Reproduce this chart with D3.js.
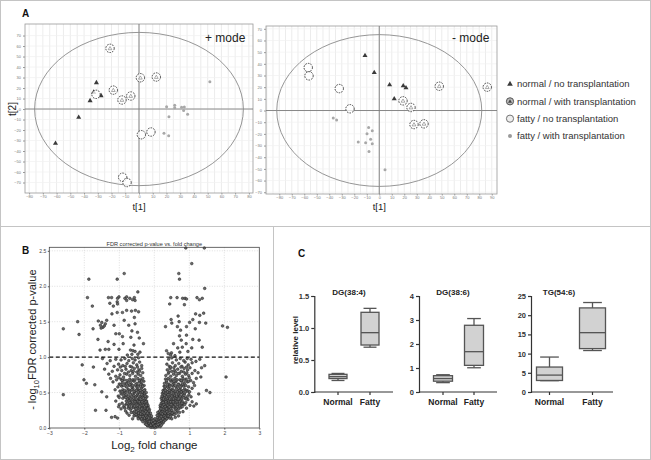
<!DOCTYPE html>
<html><head><meta charset="utf-8">
<script src="https://cdn.jsdelivr.net/npm/d3@7"></script>
<style>body{margin:0;background:#fff}svg{display:block;font-family:"Liberation Sans",Arial,sans-serif}</style>
</head><body><svg id="c" width="651" height="460"></svg>
<script>
// ---------- Panel A data (PCA scores, t[1], t[2]) ----------
const legendLabels = ["normal / no transplantation","normal / with transplantation","fatty / no transplantation","fatty / with transplantation"];
const plusNormalNo   = [[-31,25],[-27.6,12.7],[-35.6,7.9],[-43.9,-7.9],[-60.8,-32.7],[-33,16]];
const plusNormalWith = [[-21.1,57.8],[-18.7,18],[-12.4,8.6],[-6,12.4],[1,29.8],[12.6,30.5]];
const plusFattyNo    = [[-31.3,14],[1.7,-24.5],[8.7,-21.9],[-11.9,-65],[-8.7,-70]];
const plusFattyWith  = [[51.6,26],[20.1,2.2],[26,3.5],[26,1.3],[31,1.6],[33,1.9],[32.5,-1.3],[35.4,-5],[21.8,-7.3],[18.2,-23],[21.6,-25.4]];
const minusNormalNo   = [[-11.4,47],[-4,32.5],[8.3,22],[19.2,21.1],[21.4,19.4],[12,10]];
const minusNormalWith = [[19,8.3],[25.4,2.6],[27.8,-12],[35.8,-11.4],[48,20.8],[86.4,20]];
const minusFattyNo    = [[-56.8,36.8],[-56.2,29.7],[-32,18.8],[-23.4,1.5]];
const minusFattyWith  = [[-36.8,-6.5],[-34.1,-8.2],[-8.5,-14.5],[-5.6,-17.4],[-9.8,-19.9],[-6.9,-24.5],[-16.8,-27],[-10.9,-27.6],[-5.6,-28.5],[-8.2,-35],[4.6,-50.7]];
const plusXTicks = d3.range(-80, 81, 10);
const plusYTicks = d3.range(-70, 71, 10);
const minusXTicks = d3.range(-80, 91, 10);
const minusYTicks = d3.range(-70, 71, 10);

// ---------- Panel B data (log2 fold change, -log10 FDR p) ----------
const volcanoSparse = [
[0.90,2.54],[1.43,2.54],[1.07,2.32],[0.70,2.18],[0.72,2.10],[1.44,1.97],[0.47,1.84],[0.65,1.84],[0.81,1.83],[0.88,1.83],[0.92,1.82],[1.22,1.84],[1.29,1.81],[1.37,1.83],[0.44,1.75],[0.86,1.74],[1.18,1.61],[1.30,1.59],[1.41,1.62],[0.68,1.58],[0.48,1.53],[0.50,1.48],[0.71,1.50],[1.01,1.49],[1.10,1.53],[1.29,1.49],[1.47,1.48],[0.32,1.43],[0.66,1.43],[0.75,1.38],[0.92,1.43],[1.17,1.40],[1.95,1.44],[2.09,1.42],[0.72,1.30],[0.92,1.31],[0.77,1.24],[1.10,1.25],[1.28,1.24],[0.55,1.19],[0.91,1.19],[0.67,1.13],[0.80,1.14],[1.07,1.13],[1.37,1.14],[0.35,1.09],[0.49,1.06],[0.73,1.07],[0.96,1.08],[0.47,1.03],[0.59,1.02],[0.40,1.05],
[-0.86,2.18],[-1.06,2.10],[-1.87,2.10],[-0.47,1.92],[-1.91,1.84],[-1.31,1.84],[-1.22,1.84],[-1.05,1.83],[-1.01,1.85],[-0.84,1.83],[-0.79,1.85],[-0.70,1.83],[-0.62,1.81],[-0.57,1.84],[-0.55,1.80],[-1.06,1.78],[-0.79,1.80],[-1.77,1.72],[-1.05,1.75],[-1.27,1.76],[-1.17,1.72],[-0.79,1.66],[-0.65,1.65],[-0.54,1.66],[-0.45,1.64],[-0.91,1.63],[-1.06,1.63],[-1.21,1.61],[-1.36,1.52],[-1.50,1.49],[-1.60,1.51],[-2.19,1.50],[-1.54,1.45],[-1.47,1.42],[-1.52,1.41],[-1.43,1.44],[-1.40,1.47],[-1.15,1.45],[-0.86,1.52],[-0.57,1.56],[-0.55,1.47],[-0.73,1.45],[-2.60,1.40],[-2.15,1.32],[-1.75,1.40],[-1.10,1.33],[-1.00,1.33],[-0.48,1.35],[-0.64,1.37],[-0.91,1.29],[-0.67,1.28],[-0.43,1.27],[-1.61,1.25],[-1.32,1.22],[-1.15,1.18],[-0.89,1.19],[-0.58,1.17],[-0.31,1.19],[-1.40,1.11],[-1.30,1.11],[-1.01,1.11],[-0.68,1.10],[-0.61,1.09],[-0.55,1.08],[-0.41,1.07],[-1.55,1.10],[-0.77,1.03],[-0.47,1.04],[-0.64,1.04],
[2.05,0.72],[-2.60,0.47],[-2.06,0.89],[-2.01,0.68],[-1.94,0.63],[-1.74,0.86],[-1.68,0.25],[-1.50,0.51],[1.44,0.88],[1.33,0.72],[1.49,0.53],[1.59,0.50],[1.27,0.48],[1.13,0.31],[1.20,0.34],[-1.12,0.16],[-1.38,0.25],[-1.36,0.44],[-1.70,0.61]
];
const volcanoCloud = [
[-0.13,0.02],[-0.09,0.01],[-0.06,0.03],[-0.03,0.01],[0.01,0.02],[0.04,0.01],[0.07,0.03],[0.1,0.02],[0.14,0.04],[-0.16,0.05],[-0.11,0.06],[-0.07,0.05],[-0.02,0.04],[0.03,0.05],[0.08,0.06],[0.12,0.07],[0.18,0.05],[-0.21,0.08],[-0.17,0.09],[-0.12,0.1],[-0.05,0.08],[0.05,0.09],[0.1,0.1],[0.15,0.08],[0.21,0.09],[0.25,0.07],[-0.26,0.06],[-0.01,0.07],[0.0,0.03],[-0.19,0.03],[0.17,0.02],[-0.08,0.09],[0.13,0.09],[0.23,0.11],[-0.24,0.11],
[-0.38,0.12],[-0.33,0.14],[-0.29,0.12],[-0.25,0.15],[-0.21,0.13],[-0.18,0.16],[-0.14,0.12],[-0.1,0.14],[-0.06,0.13],[0.06,0.12],[0.1,0.15],[0.14,0.13],[0.18,0.16],[0.22,0.14],[0.26,0.12],[0.3,0.15],[0.34,0.13],[0.39,0.16],[0.44,0.14],[-0.44,0.15],[-0.5,0.17],[-0.41,0.18],[-0.35,0.19],[-0.31,0.17],[-0.27,0.19],[-0.22,0.18],[-0.16,0.2],[-0.12,0.18],[0.12,0.19],[0.16,0.2],[0.2,0.18],[0.25,0.19],[0.29,0.2],[0.33,0.18],[0.37,0.2],[0.42,0.19],[0.48,0.18],[0.53,0.2],[-0.56,0.2],[-0.47,0.2],[-0.08,0.17],[0.08,0.18],[-0.03,0.11],[0.02,0.13],[-0.62,0.13],[0.6,0.15],[-0.72,0.18],[0.69,0.17],[-1.05,0.14],[-1.22,0.15],
[-0.62,0.22],[-0.56,0.24],[-0.51,0.23],[-0.46,0.25],[-0.42,0.22],[-0.38,0.24],[-0.34,0.26],[-0.3,0.23],[-0.26,0.25],[-0.22,0.27],[-0.18,0.23],[-0.14,0.26],[0.14,0.22],[0.18,0.25],[0.22,0.23],[0.26,0.26],[0.3,0.24],[0.34,0.22],[0.38,0.25],[0.42,0.27],[0.46,0.23],[0.5,0.25],[0.55,0.22],[0.6,0.26],[0.65,0.24],[-0.68,0.26],[-0.74,0.28],[-0.6,0.29],[-0.53,0.28],[-0.48,0.3],[-0.43,0.28],[-0.37,0.29],[-0.32,0.3],[-0.27,0.28],[-0.21,0.3],[-0.17,0.29],[0.17,0.29],[0.21,0.3],[0.27,0.29],[0.32,0.28],[0.37,0.3],[0.41,0.29],[0.47,0.28],[0.52,0.3],[0.58,0.29],[0.63,0.28],[0.7,0.27],[0.76,0.29],[-0.82,0.24],[0.82,0.23],[-0.95,0.27],[0.92,0.28],[-0.11,0.21],[0.1,0.22],[-0.88,0.3],
[-0.85,0.32],[-0.79,0.34],[-0.74,0.31],[-0.69,0.33],[-0.64,0.35],[-0.6,0.32],[-0.55,0.34],[-0.5,0.36],[-0.46,0.33],[-0.41,0.35],[-0.37,0.32],[-0.33,0.34],[-0.29,0.36],[-0.25,0.33],[-0.21,0.35],[-0.18,0.32],[0.17,0.32],[0.2,0.35],[0.24,0.33],[0.28,0.36],[0.32,0.32],[0.36,0.34],[0.4,0.36],[0.44,0.33],[0.49,0.35],[0.53,0.32],[0.58,0.34],[0.62,0.36],[0.67,0.33],[0.72,0.35],[0.78,0.32],[0.84,0.34],[-0.8,0.38],[-0.72,0.39],[-0.66,0.37],[-0.58,0.39],[-0.52,0.38],[-0.44,0.4],[-0.39,0.38],[-0.31,0.39],[-0.27,0.4],[-0.22,0.38],[0.22,0.39],[0.26,0.38],[0.3,0.4],[0.35,0.38],[0.39,0.39],[0.46,0.4],[0.51,0.38],[0.56,0.39],[0.61,0.4],[0.69,0.38],[0.75,0.39],[0.81,0.37],[0.9,0.36],[-0.92,0.35],[-1.0,0.33],[1.02,0.32],[-1.1,0.38],[0.96,0.4],
[-0.9,0.42],[-0.84,0.44],[-0.77,0.41],[-0.71,0.43],[-0.65,0.45],[-0.6,0.42],[-0.54,0.44],[-0.49,0.46],[-0.43,0.42],[-0.38,0.45],[-0.34,0.43],[-0.29,0.46],[-0.25,0.42],[-0.21,0.44],[0.2,0.42],[0.24,0.45],[0.28,0.43],[0.33,0.46],[0.37,0.42],[0.42,0.44],[0.47,0.46],[0.52,0.43],[0.57,0.45],[0.62,0.42],[0.66,0.44],[0.71,0.46],[0.76,0.43],[0.82,0.45],[0.88,0.42],[0.94,0.44],[-0.95,0.48],[-0.86,0.49],[-0.79,0.47],[-0.7,0.49],[-0.62,0.48],[-0.56,0.5],[-0.47,0.48],[-0.41,0.5],[-0.32,0.49],[-0.27,0.48],[-0.23,0.5],[0.23,0.49],[0.27,0.5],[0.31,0.48],[0.4,0.49],[0.45,0.5],[0.54,0.48],[0.6,0.5],[0.68,0.48],[0.74,0.5],[0.8,0.49],[0.86,0.48],[0.99,0.47],[1.05,0.44],[-1.03,0.45],
[-0.98,0.52],[-0.9,0.54],[-0.83,0.51],[-0.75,0.55],[-0.68,0.53],[-0.61,0.56],[-0.55,0.52],[-0.49,0.55],[-0.43,0.53],[-0.37,0.56],[-0.32,0.52],[-0.27,0.54],[0.25,0.53],[0.3,0.55],[0.35,0.52],[0.41,0.56],[0.46,0.53],[0.51,0.55],[0.57,0.52],[0.63,0.56],[0.69,0.53],[0.74,0.55],[0.8,0.52],[0.87,0.55],[0.93,0.53],[-1.04,0.58],[-0.93,0.59],[-0.8,0.58],[-0.72,0.6],[-0.64,0.58],[-0.52,0.59],[-0.45,0.6],[-0.35,0.58],[-0.29,0.6],[0.28,0.59],[0.38,0.58],[0.44,0.6],[0.55,0.59],[0.66,0.58],[0.77,0.6],[0.84,0.59],[0.98,0.58],[1.08,0.56],[-1.12,0.54],[1.15,0.6],
[-1.0,0.62],[-0.91,0.64],[-0.82,0.63],[-0.74,0.65],[-0.66,0.62],[-0.58,0.66],[-0.5,0.63],[-0.42,0.65],[-0.36,0.62],[-0.3,0.66],[0.29,0.63],[0.35,0.65],[0.42,0.62],[0.48,0.66],[0.55,0.63],[0.62,0.65],[0.7,0.62],[0.78,0.66],[0.86,0.63],[0.95,0.65],[-1.08,0.68],[-0.95,0.69],[-0.86,0.68],[-0.7,0.69],[-0.61,0.68],[-0.47,0.7],[-0.39,0.68],[-0.33,0.7],[0.32,0.69],[0.4,0.7],[0.51,0.68],[0.59,0.7],[0.73,0.68],[0.82,0.7],[0.91,0.69],[1.04,0.67],[1.12,0.64],[-1.18,0.65],[-1.25,0.7],[1.2,0.7],
[-1.1,0.73],[-0.98,0.75],[-0.88,0.72],[-0.79,0.76],[-0.7,0.74],[-0.62,0.77],[-0.54,0.73],[-0.46,0.76],[-0.39,0.74],[-0.33,0.78],[0.33,0.74],[0.4,0.77],[0.47,0.73],[0.55,0.76],[0.63,0.74],[0.72,0.77],[0.8,0.73],[0.89,0.76],[0.98,0.74],[1.08,0.77],[-1.2,0.8],[-1.05,0.82],[-0.93,0.81],[-0.81,0.83],[-0.66,0.81],[-0.57,0.84],[-0.44,0.82],[-0.36,0.84],[0.37,0.82],[0.45,0.84],[0.58,0.81],[0.67,0.83],[0.77,0.8],[0.85,0.84],[0.95,0.82],[1.16,0.81],[1.25,0.78],[-1.3,0.76],[-1.42,0.83],[1.35,0.85],
[-1.15,0.87],[-1.02,0.9],[-0.9,0.88],[-0.78,0.91],[-0.69,0.87],[-0.6,0.92],[-0.5,0.89],[-0.42,0.93],[-0.36,0.88],[0.36,0.9],[0.43,0.87],[0.52,0.92],[0.6,0.88],[0.7,0.91],[0.79,0.87],[0.88,0.93],[0.97,0.89],[1.08,0.92],[-1.26,0.95],[-1.1,0.97],[-0.95,0.96],[-0.84,0.98],[-0.73,0.95],[-0.63,0.98],[-0.55,0.96],[-0.45,0.99],[0.41,0.97],[0.5,0.99],[0.63,0.96],[0.74,0.98],[0.84,0.95],[0.94,0.98],[1.05,0.97],[1.19,0.94],[1.3,0.97],[-1.35,0.91],[-1.48,0.98]
];
const volcanoCloudDense = [
[-0.2,0.04],[-0.15,0.07],[-0.1,0.04],[-0.04,0.06],[0.02,0.08],[0.06,0.04],[0.09,0.07],[0.16,0.06],[0.2,0.04],[0.27,0.09],[-0.29,0.1],[-0.23,0.05],[0.19,0.11],[-0.14,0.09],[0.11,0.05],[-0.18,0.12],[0.31,0.11],[-0.33,0.09],
[-0.46,0.13],[-0.4,0.16],[-0.36,0.13],[-0.32,0.16],[-0.28,0.14],[-0.24,0.17],[-0.2,0.15],[-0.16,0.14],[0.16,0.14],[0.2,0.16],[0.24,0.13],[0.28,0.17],[0.32,0.15],[0.36,0.13],[0.4,0.17],[0.46,0.16],[0.5,0.13],[-0.52,0.19],[-0.45,0.21],[-0.39,0.2],[-0.33,0.22],[-0.29,0.21],[-0.24,0.23],[-0.19,0.21],[-0.15,0.24],[0.15,0.24],[0.19,0.21],[0.23,0.2],[0.28,0.22],[0.31,0.21],[0.36,0.23],[0.4,0.21],[0.45,0.22],[0.51,0.21],[0.57,0.19],[0.63,0.21],[-0.58,0.17],[-0.66,0.22],[0.72,0.22],[-0.78,0.21],
[-0.7,0.31],[-0.65,0.28],[-0.57,0.31],[-0.52,0.27],[-0.47,0.32],[-0.42,0.3],[-0.36,0.27],[-0.31,0.32],[-0.27,0.3],[-0.23,0.32],[-0.19,0.27],[0.19,0.27],[0.23,0.31],[0.27,0.33],[0.31,0.3],[0.35,0.27],[0.39,0.32],[0.43,0.3],[0.48,0.33],[0.55,0.3],[0.6,0.33],[0.66,0.3],[0.73,0.31],[0.8,0.3],[-0.77,0.35],[-0.7,0.36],[-0.62,0.37],[-0.55,0.37],[-0.48,0.38],[-0.43,0.37],[-0.35,0.37],[-0.24,0.37],[0.25,0.36],[0.33,0.37],[0.42,0.38],[0.47,0.37],[0.54,0.37],[0.65,0.37],[0.72,0.37],[0.79,0.35],[0.87,0.33],[-0.84,0.28],[-1.02,0.3],[1.08,0.37],
[-0.88,0.46],[-0.81,0.43],[-0.74,0.45],[-0.67,0.41],[-0.58,0.46],[-0.51,0.41],[-0.45,0.45],[-0.4,0.41],[-0.36,0.47],[-0.31,0.42],[-0.26,0.45],[0.22,0.45],[0.26,0.41],[0.3,0.46],[0.35,0.44],[0.39,0.47],[0.44,0.41],[0.5,0.45],[0.55,0.41],[0.59,0.46],[0.64,0.45],[0.69,0.41],[0.74,0.45],[0.79,0.41],[0.85,0.46],[0.91,0.41],[-0.92,0.51],[-0.85,0.53],[-0.77,0.52],[-0.71,0.51],[-0.64,0.54],[-0.58,0.52],[-0.51,0.53],[-0.46,0.51],[-0.4,0.53],[-0.34,0.51],[-0.29,0.53],[0.27,0.51],[0.32,0.53],[0.38,0.51],[0.43,0.53],[0.49,0.51],[0.54,0.53],[0.6,0.52],[0.66,0.51],[0.72,0.53],[0.77,0.51],[0.83,0.53],[0.9,0.51],[0.97,0.52],[-1.0,0.43],[1.01,0.51],
[-0.96,0.61],[-0.87,0.6],[-0.79,0.62],[-0.7,0.61],[-0.62,0.6],[-0.54,0.61],[-0.46,0.58],[-0.39,0.61],[-0.33,0.59],[0.31,0.58],[0.37,0.61],[0.45,0.59],[0.52,0.61],[0.6,0.6],[0.68,0.61],[0.75,0.58],[0.81,0.62],[0.9,0.6],[-0.92,0.67],[-0.78,0.67],[-0.66,0.66],[-0.55,0.68],[-0.43,0.67],[-0.36,0.66],[0.35,0.67],[0.45,0.68],[0.56,0.66],[0.65,0.68],[0.77,0.67],[0.87,0.67],[0.98,0.66],[-1.02,0.71],[1.0,0.71],
[-0.85,0.77],[-0.74,0.79],[-0.6,0.8],[-0.5,0.79],[-0.42,0.8],[0.42,0.79],[0.5,0.8],[0.6,0.79],[0.68,0.77],[0.84,0.79],[0.93,0.78],[-0.97,0.86],[-0.83,0.87],[-0.64,0.86],[-0.48,0.86],[0.47,0.86],[0.56,0.85],[0.76,0.86],[0.92,0.86],[1.02,0.85]
];
const volcanoXTicks = [-3,-2,-1,0,1,2,3];
const volcanoYTicks = [0,0.5,1,1.5,2,2.5];
const volcanoThreshold = 1.0;

// ---------- Panel C data (box plots: min, Q1, median, Q3, max) ----------
const boxTitles = ["DG(38:4)","DG(38:6)","TG(54:6)"];
const boxGroups = ["Normal","Fatty"];
const dg384Normal = [0.18,0.21,0.24,0.276,0.29];
const dg384Fatty  = [0.70,0.734,0.927,1.245,1.307];
const dg386Normal = [0.39,0.45,0.56,0.68,0.72];
const dg386Fatty  = [1.01,1.11,1.68,2.78,3.06];
const tg546Normal = [2.95,3.0,4.4,6.5,9.1];
const tg546Fatty  = [10.8,11.3,15.45,21.9,23.3];
const boxYMax   = [1.5, 4, 25];
const boxYTicks = [[0,0.5,1,1.5],[0,1,2,3,4],[0,5,10,15,20,25]];

// ================= drawing =================
const svg = d3.select("#c");
const FONT = '"Liberation Sans",Arial,sans-serif';

svg.append("rect").attr("x",0.5).attr("y",0.5).attr("width",650).attr("height",459).attr("fill","none").attr("stroke","#c4c4c4");
svg.append("line").attr("x1",0).attr("x2",651).attr("y1",226.5).attr("y2",226.5).attr("stroke","#c4c4c4");
svg.append("line").attr("x1",273.5).attr("x2",273.5).attr("y1",226.5).attr("y2",460).attr("stroke","#c4c4c4");

function label(t, x, y, size, weight){
  svg.append("text").attr("x",x).attr("y",y).attr("font-size",size).attr("font-weight",weight||"bold").attr("fill","#111").text(t);
}
label("A",22,16.5,10);
label("B",22,253.5,10);
label("C",298,257,10);

function drawPCA(cfg){
  const g = svg.append("g");
  const x = d3.scaleLinear().domain(cfg.xd).range([cfg.x0,cfg.x1]);
  const y = d3.scaleLinear().domain(cfg.yd).range([cfg.y1,cfg.y0]);
  const vg = d3.range(Math.ceil(cfg.xd[0]/5)*5, cfg.xd[1], 5);
  g.selectAll(null).data(vg).join("line")
    .attr("x1",d=>x(d)).attr("x2",d=>x(d)).attr("y1",cfg.y0).attr("y2",cfg.y1)
    .attr("stroke","#e4e4e4").attr("stroke-width",0.7);
  g.selectAll(null).data(cfg.yt).join("line")
    .attr("y1",d=>y(d)).attr("y2",d=>y(d)).attr("x1",cfg.x0).attr("x2",cfg.x1)
    .attr("stroke","#f0f0f0").attr("stroke-width",0.7);
  g.append("rect").attr("x",cfg.x0).attr("y",cfg.y0).attr("width",cfg.x1-cfg.x0).attr("height",cfg.y1-cfg.y0)
    .attr("fill","none").attr("stroke","#9a9a9a").attr("stroke-width",0.8);
  g.append("line").attr("x1",x(0)).attr("x2",x(0)).attr("y1",cfg.y0).attr("y2",cfg.y1).attr("stroke","#7a7a7a").attr("stroke-width",0.9);
  g.append("line").attr("y1",y(0)).attr("y2",y(0)).attr("x1",cfg.x0).attr("x2",cfg.x1).attr("stroke","#7a7a7a").attr("stroke-width",0.9);
  g.append("ellipse").attr("cx",x(0)).attr("cy",y(0)).attr("rx",x(cfg.rx)-x(0)).attr("ry",y(0)-y(cfg.ry))
    .attr("fill","none").attr("stroke","#8a8a8a").attr("stroke-width",0.9);
  const ax = g.append("g").attr("transform",`translate(0,${cfg.y1})`)
    .call(d3.axisBottom(x).tickValues(cfg.xt).tickSize(1.5).tickPadding(1));
  const ay = g.append("g").attr("transform",`translate(${cfg.x0},0)`)
    .call(d3.axisLeft(y).tickValues(cfg.yt).tickSize(2).tickPadding(2));
  [ax,ay].forEach(a=>{
    a.select(".domain").remove();
    a.selectAll("line").attr("stroke","#999");
    a.selectAll("text").attr("font-size",4).attr("fill","#777").attr("font-family",FONT);
  });
  const tri = d3.symbol().type(d3.symbolTriangle).size(11);
  const triSmall = d3.symbol().type(d3.symbolTriangle).size(6);
  g.selectAll(null).data(cfg.fw).join("circle")
    .attr("cx",d=>x(d[0])).attr("cy",d=>y(d[1])).attr("r",1.5).attr("fill","#a8a8a8");
  g.selectAll(null).data(cfg.nn).join("path").attr("d",tri)
    .attr("transform",d=>`translate(${x(d[0])},${y(d[1])})`).attr("fill","#3a3a3a");
  const circ = cfg.nw.concat(cfg.fn);
  g.selectAll(null).data(circ).join("circle")
    .attr("cx",d=>x(d[0])).attr("cy",d=>y(d[1])).attr("r",4.2)
    .attr("fill","#fff").attr("fill-opacity",0.75).attr("stroke","#333").attr("stroke-width",0.9).attr("stroke-dasharray","1.6,1.1");
  g.selectAll(null).data(cfg.nw).join("path").attr("d",triSmall)
    .attr("transform",d=>`translate(${x(d[0])},${y(d[1])+0.3})`).attr("fill","none").attr("stroke","#777").attr("stroke-width",0.6);
  g.append("text").attr("x",cfg.mx).attr("y",41.5).attr("font-size",12).attr("fill","#222").text(cfg.mode);
  g.append("text").attr("x",x(0)).attr("y",210).attr("text-anchor","middle").attr("font-size",9.5).attr("fill","#222").text("t[1]");
  if(cfg.ylab){
    g.append("text").attr("transform",`translate(16,${y(0)}) rotate(-90)`).attr("text-anchor","middle")
      .attr("font-size",10).attr("fill","#222").text("t[2]");
  }
}

drawPCA({x0:25,x1:253,y0:24,y1:193,xd:[-83,83],yd:[-80,81],rx:76,ry:73,xt:plusXTicks,yt:plusYTicks,
  nn:plusNormalNo,nw:plusNormalWith,fn:plusFattyNo,fw:plusFattyWith,mode:"+ mode",mx:205,ylab:true});
drawPCA({x0:266,x1:497,y0:26,y1:194,xd:[-90.6,94.2],yd:[-71.5,72.4],rx:82,ry:65,xt:minusXTicks,yt:minusYTicks,
  nn:minusNormalNo,nw:minusNormalWith,fn:minusFattyNo,fw:minusFattyWith,mode:"- mode",mx:452,ylab:false});

// legend
const lg = svg.append("g");
const legY = d3.scalePoint().domain(legendLabels).range([84,136]);
legendLabels.forEach((t,i)=>{
  const cy = legY(t), cx = 510;
  if(i===0) lg.append("path").attr("d",d3.symbol().type(d3.symbolTriangle).size(14)).attr("transform",`translate(${cx},${cy})`).attr("fill","#3a3a3a");
  if(i===1){ lg.append("circle").attr("cx",cx).attr("cy",cy).attr("r",3.6).attr("fill","#bbb").attr("stroke","#444").attr("stroke-width",0.9);
    lg.append("path").attr("d",d3.symbol().type(d3.symbolTriangle).size(7)).attr("transform",`translate(${cx},${cy+0.3})`).attr("fill","#444"); }
  if(i===2) lg.append("circle").attr("cx",cx).attr("cy",cy).attr("r",3.6).attr("fill","#eee").attr("stroke","#666").attr("stroke-width",0.9);
  if(i===3) lg.append("circle").attr("cx",cx).attr("cy",cy).attr("r",2).attr("fill","#9a9a9a");
  lg.append("text").attr("x",517).attr("y",cy+3.3).attr("font-size",9.5).attr("fill","#333").text(t);
});

// ---------- Panel B ----------
(function(){
  const x0=49.3,x1=259.3,y0=247.3,y1=428;
  const x = d3.scaleLinear().domain([-3,3]).range([x0,x1]);
  const y = d3.scaleLinear().domain([0,2.55]).range([y1,y0]);
  const g = svg.append("g");
  g.selectAll(null).data(volcanoXTicks.slice(1,-1)).join("line")
    .attr("x1",d=>x(d)).attr("x2",d=>x(d)).attr("y1",y0).attr("y2",y1).attr("stroke","#c8c8c8").attr("stroke-width",0.6).attr("stroke-dasharray","1,1.5");
  g.selectAll(null).data(volcanoYTicks.slice(1)).join("line")
    .attr("y1",d=>y(d)).attr("y2",d=>y(d)).attr("x1",x0).attr("x2",x1).attr("stroke","#c8c8c8").attr("stroke-width",0.6).attr("stroke-dasharray","1,1.5");
  const pts = volcanoCloud.concat(volcanoCloudDense, volcanoSparse);
  g.selectAll(null).data(pts).join("circle")
    .attr("cx",d=>x(d[0])).attr("cy",d=>y(d[1])).attr("r",1.35)
    .attr("fill","#6a6a6a").attr("stroke","#1e1e1e").attr("stroke-width",0.5);
  g.append("line").attr("x1",x0).attr("x2",x1).attr("y1",y(volcanoThreshold)).attr("y2",y(volcanoThreshold))
    .attr("stroke","#111").attr("stroke-width",1.2).attr("stroke-dasharray","4,2.5");
  g.append("rect").attr("x",x0).attr("y",y0).attr("width",x1-x0).attr("height",y1-y0).attr("fill","none").attr("stroke","#444").attr("stroke-width",0.8);
  const ax = g.append("g").attr("transform",`translate(0,${y1})`).call(d3.axisBottom(x).tickValues(volcanoXTicks).tickSize(1.5).tickPadding(1.5).tickFormat(d3.format("d")));
  const ay = g.append("g").attr("transform",`translate(${x0},0)`).call(d3.axisLeft(y).tickValues(volcanoYTicks).tickSize(1.5).tickPadding(1.5).tickFormat(d3.format(".1f")));
  [ax,ay].forEach(a=>{ a.select(".domain").remove(); a.selectAll("line").attr("stroke","#555");
    a.selectAll("text").attr("font-size",5).attr("fill","#444").attr("font-family",FONT); });
  g.append("text").attr("x",(x0+x1)/2).attr("y",245.8).attr("text-anchor","middle").attr("font-size",5.6).attr("fill","#333").text("FDR corrected p-value vs. fold change");
  const yl = g.append("text").attr("transform",`translate(35.5,${(y0+y1)/2+2}) rotate(-90)`).attr("text-anchor","middle").attr("font-size",11).attr("fill","#222");
  yl.append("tspan").text("- log");
  yl.append("tspan").attr("dy",3).attr("font-size",7.5).text("10");
  yl.append("tspan").attr("dy",-3).text("FDR corrected p-value");
  const xl = g.append("text").attr("x",(x0+x1)/2).attr("y",449).attr("text-anchor","middle").attr("font-size",11.5).attr("fill","#222");
  xl.append("tspan").text("Log");
  xl.append("tspan").attr("dy",3).attr("font-size",8).text("2");
  xl.append("tspan").attr("dy",-3).text(" fold change");
})();

// ---------- Panel C ----------
(function(){
  const stats = [[dg384Normal,dg384Fatty],[dg386Normal,dg386Fatty],[tg546Normal,tg546Fatty]];
  const layout = [
    {ax:314.3, xEnd:393, band:[322,386], bw:18, tx:349},
    {ax:419,   xEnd:497, band:[427.5,489.5], bw:19, tx:453},
    {ax:531,   xEnd:613, band:[528,614], bw:26, tx:559}
  ];
  const fmts = [d3.format(".1f"), d3.format("d"), d3.format("d")];
  stats.forEach((s,i)=>{
    const L = layout[i];
    const g = svg.append("g");
    const y = d3.scaleLinear().domain([0,boxYMax[i]]).range([392,296]);
    const x = d3.scaleBand().domain(boxGroups).range(L.band);
    const cx = k => x(k)+x.bandwidth()/2;
    const ay = g.append("g").attr("transform",`translate(${L.ax},0)`).call(d3.axisLeft(y).tickValues(boxYTicks[i]).tickSize(3).tickPadding(2).tickFormat(fmts[i]));
    ay.select(".domain").attr("stroke","#333").attr("stroke-width",1.2);
    ay.selectAll("line").attr("stroke","#333").attr("stroke-width",1.2);
    ay.selectAll("text").attr("font-size",7.5).attr("font-weight","bold").attr("fill","#333").attr("font-family",FONT);
    g.append("line").attr("x1",L.ax).attr("x2",L.xEnd).attr("y1",392).attr("y2",392).attr("stroke","#333").attr("stroke-width",1.2);
    boxGroups.forEach((k,j)=>{
      const c = cx(k), v = s[j], hw = L.bw/2, cw = L.bw*0.36;
      g.append("line").attr("x1",c).attr("x2",c).attr("y1",392).attr("y2",395).attr("stroke","#333").attr("stroke-width",1.2);
      g.append("line").attr("x1",c).attr("x2",c).attr("y1",y(v[0])).attr("y2",y(v[4])).attr("stroke","#555").attr("stroke-width",1.3);
      g.append("line").attr("x1",c-cw).attr("x2",c+cw).attr("y1",y(v[0])).attr("y2",y(v[0])).attr("stroke","#555").attr("stroke-width",1.3);
      g.append("line").attr("x1",c-cw).attr("x2",c+cw).attr("y1",y(v[4])).attr("y2",y(v[4])).attr("stroke","#555").attr("stroke-width",1.3);
      g.append("rect").attr("x",c-hw).attr("width",L.bw).attr("y",y(v[3])).attr("height",y(v[1])-y(v[3]))
        .attr("fill","#d2d2d2").attr("stroke","#555").attr("stroke-width",1.3);
      g.append("line").attr("x1",c-hw).attr("x2",c+hw).attr("y1",y(v[2])).attr("y2",y(v[2])).attr("stroke","#555").attr("stroke-width",1.3);
      g.append("text").attr("x",c).attr("y",404.5).attr("text-anchor","middle").attr("font-size",8.5).attr("font-weight","bold").attr("fill","#222").text(k);
    });
    g.append("text").attr("x",L.tx).attr("y",295).attr("text-anchor","middle").attr("font-size",8).attr("font-weight","bold").attr("fill","#222").text(boxTitles[i]);
    if(i===0){
      g.append("text").attr("transform",`translate(298,340) rotate(-90)`).attr("text-anchor","middle")
        .attr("font-size",8).attr("font-weight","bold").attr("fill","#222").text("relative level");
    }
  });
})();
</script>
</body></html>
